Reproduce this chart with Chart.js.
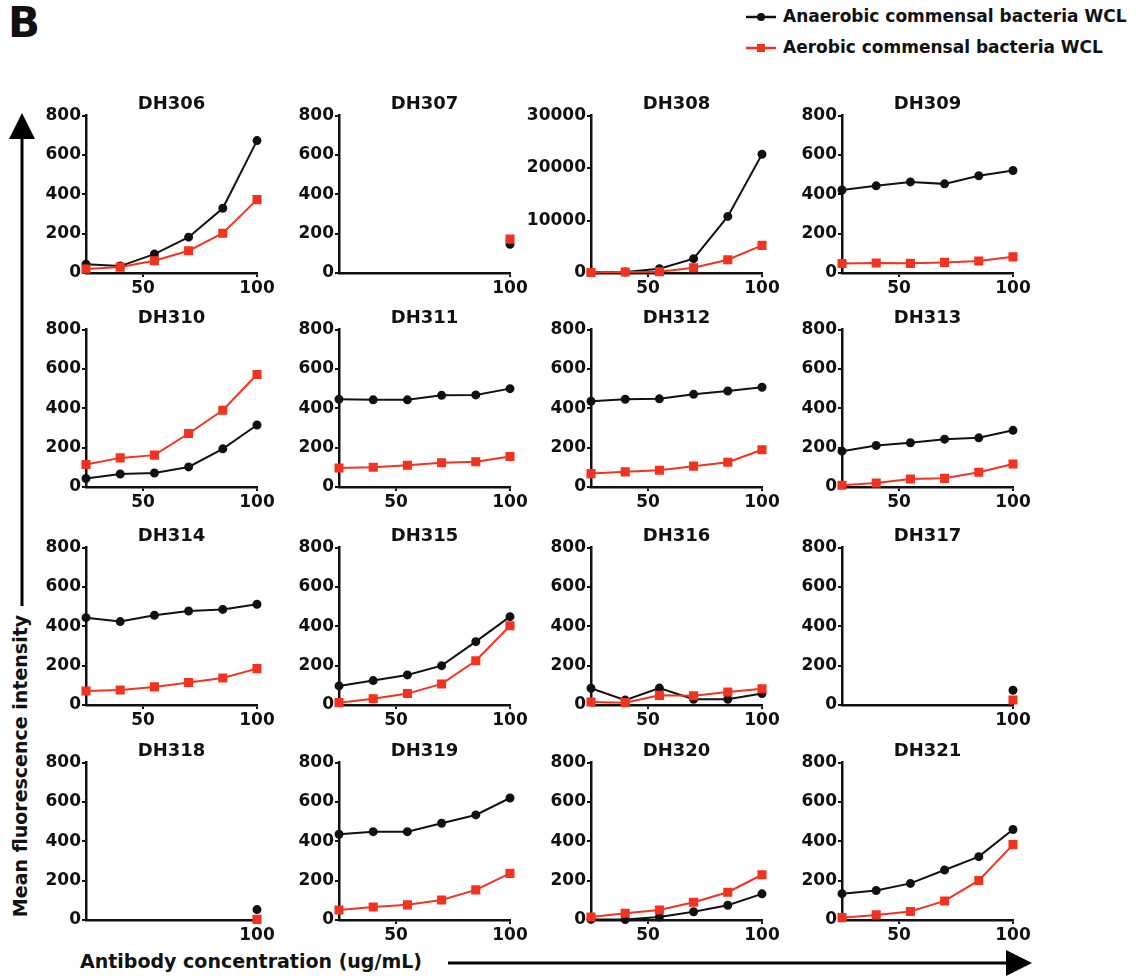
<!DOCTYPE html>
<html>
<head>
<meta charset="utf-8">
<script src="https://cdn.jsdelivr.net/npm/chart.js@4.4.1/dist/chart.umd.min.js"></script>
<style>
  body { margin: 0; background: #fff; }
  #page { position: relative; width: 1146px; height: 976px; overflow: hidden; font-family: 'DejaVu Sans', sans-serif; color: #111; }
  #page canvas { position: absolute; }
  .txt { position: absolute; font-weight: bold; white-space: nowrap; line-height: 1; }
  #overlay { position: absolute; left: 0; top: 0; }
</style>
</head>
<body>
<div id="page">
  <div class="txt" style="left:8px; top:2px; font-size:42px;">B</div>
  <div class="txt" style="left:783px; top:8px; font-size:17px;">Anaerobic commensal bacteria WCL</div>
  <div class="txt" style="left:783px; top:39px; font-size:17px;">Aerobic commensal bacteria WCL</div>
  <div class="txt" style="left:80px; top:952px; font-size:19px;">Antibody concentration (ug/mL)</div>
  <div class="txt" style="left:20px; top:766px; font-size:19px; transform: translate(-50%, -50%) rotate(-90deg);">Mean fluorescence intensity</div>
  <svg id="overlay" width="1146" height="976">
    <!-- legend markers -->
    <line x1="746" y1="17" x2="776" y2="17" stroke="#111" stroke-width="2.5"/>
    <circle cx="761" cy="17" r="4" fill="#111"/>
    <line x1="746" y1="48" x2="776" y2="48" stroke="#f2331f" stroke-width="2.5"/>
    <rect x="757" y="44" width="8" height="8" fill="#f2331f"/>
    <!-- axis arrows -->
    <line x1="22" y1="606" x2="22" y2="132" stroke="#000" stroke-width="3"/>
    <polygon points="22,113 9,139 35,139" fill="#000"/>
    <line x1="448" y1="963" x2="1010" y2="963" stroke="#000" stroke-width="3"/>
    <polygon points="1032,963 1006,950 1006,976" fill="#000"/>
  </svg>
</div>
<script>
// antibody concentration (ug/mL)
const DOSES = [25, 40, 55, 70, 85, 100];

const PANEL_NAMES = ['DH306', 'DH307', 'DH308', 'DH309', 'DH310', 'DH311', 'DH312', 'DH313',
                     'DH314', 'DH315', 'DH316', 'DH317', 'DH318', 'DH319', 'DH320', 'DH321'];

// mean fluorescence intensity, one pair of series per antibody
const dh306Anaerobic = [45, 35, 96, 182, 329, 673];
const dh306Aerobic   = [20, 30, 62, 113, 202, 373];
const dh307Anaerobic = [null, null, null, null, null, 146];
const dh307Aerobic   = [null, null, null, null, null, 172];
const dh308Anaerobic = [120, 190, 825, 2730, 10780, 22640];
const dh308Aerobic   = [80, 190, 250, 1015, 2540, 5260];
const dh309Anaerobic = [422, 443, 463, 453, 494, 521];
const dh309Aerobic   = [48, 51, 49, 54, 61, 82];
const dh310Anaerobic = [43, 66, 71, 102, 194, 315];
const dh310Aerobic   = [114, 148, 162, 272, 390, 572];
const dh311Anaerobic = [446, 443, 443, 466, 468, 500];
const dh311Aerobic   = [97, 100, 111, 123, 128, 155];
const dh312Anaerobic = [436, 446, 448, 471, 488, 507];
const dh312Aerobic   = [68, 77, 85, 106, 126, 189];
const dh313Anaerobic = [182, 211, 225, 243, 250, 288];
const dh313Aerobic   = [9, 20, 41, 44, 75, 117];
const dh314Anaerobic = [444, 424, 456, 478, 486, 512];
const dh314Aerobic   = [71, 76, 92, 114, 137, 185];
const dh315Anaerobic = [97, 124, 153, 200, 322, 449];
const dh315Aerobic   = [12, 32, 58, 107, 225, 403];
const dh316Anaerobic = [85, 25, 86, 29, 29, 58];
const dh316Aerobic   = [15, 12, 49, 47, 66, 83];
const dh317Anaerobic = [null, null, null, null, null, 75];
const dh317Aerobic   = [null, null, null, null, null, 25];
const dh318Anaerobic = [null, null, null, null, null, 53];
const dh318Aerobic   = [null, null, null, null, null, 3];
const dh319Anaerobic = [436, 449, 449, 492, 534, 620];
const dh319Aerobic   = [51, 66, 77, 102, 153, 237];
const dh320Anaerobic = [3, 2, 15, 42, 75, 133];
const dh320Aerobic   = [15, 34, 51, 90, 141, 230];
const dh321Anaerobic = [134, 150, 186, 254, 322, 460];
const dh321Aerobic   = [12, 26, 43, 97, 201, 383];

const ANAEROBIC = [dh306Anaerobic, dh307Anaerobic, dh308Anaerobic, dh309Anaerobic,
                   dh310Anaerobic, dh311Anaerobic, dh312Anaerobic, dh313Anaerobic,
                   dh314Anaerobic, dh315Anaerobic, dh316Anaerobic, dh317Anaerobic,
                   dh318Anaerobic, dh319Anaerobic, dh320Anaerobic, dh321Anaerobic];
const AEROBIC = [dh306Aerobic, dh307Aerobic, dh308Aerobic, dh309Aerobic,
                 dh310Aerobic, dh311Aerobic, dh312Aerobic, dh313Aerobic,
                 dh314Aerobic, dh315Aerobic, dh316Aerobic, dh317Aerobic,
                 dh318Aerobic, dh319Aerobic, dh320Aerobic, dh321Aerobic];

// y ranges: DH308 has its own scale
const Y_MAX  = [800, 800, 30000, 800, 800, 800, 800, 800, 800, 800, 800, 800, 800, 800, 800, 800];
const Y_STEP = [200, 200, 10000, 200, 200, 200, 200, 200, 200, 200, 200, 200, 200, 200, 200, 200];

// x tick labels
const X_TICKS_FULL = [50, 100];
const X_TICKS_SINGLE = [100];
const SINGLE_POINT_PANELS = ['DH307', 'DH317', 'DH318'];

const BLACK = '#111111';
const RED = '#f2331f';
const FONT = 'DejaVu Sans';

// panel grid geometry (y-axis x position, top of plot area)
const COL_AXIS_X = [86, 339, 591, 842];
const ROW_TOP = [116, 330, 548, 763];
const Y_AXIS_W = 66;
const PLOT_W = 171;
const PAD_RIGHT = 20;
const TITLE_H = 33.6;
const X_AXIS_H = 26;
const PLOT_H = 157;

const page = document.getElementById('page');

function toPoints(values) {
    return DOSES.map((d, i) => ({ x: d, y: values[i] }));
}

PANEL_NAMES.forEach((name, idx) => {
    const col = idx % 4;
    const row = Math.floor(idx / 4);

    const canvas = document.createElement('canvas');
    const w = Y_AXIS_W + PLOT_W + PAD_RIGHT;
    const h = Math.round(TITLE_H + PLOT_H + X_AXIS_H);
    canvas.width = w;
    canvas.height = h;
    canvas.style.left = (COL_AXIS_X[col] - Y_AXIS_W) + 'px';
    canvas.style.top = (ROW_TOP[row] - TITLE_H) + 'px';
    canvas.style.width = w + 'px';
    canvas.style.height = h + 'px';
    page.appendChild(canvas);

    const xTicks = SINGLE_POINT_PANELS.includes(name) ? X_TICKS_SINGLE : X_TICKS_FULL;

    const axisStyle = {
        grid: { display: true, drawOnChartArea: false, drawTicks: true, tickLength: 4, color: BLACK, lineWidth: 2 },
        border: { display: true, color: BLACK, width: 2.5 }
    };

    new Chart(canvas.getContext('2d'), {
        type: 'line',
        data: {
            datasets: [
                {
                    label: 'Aerobic commensal bacteria WCL',
                    data: toPoints(AEROBIC[idx]),
                    borderColor: RED,
                    backgroundColor: RED,
                    borderWidth: 2,
                    pointStyle: 'rect',
                    pointRadius: 5,
                    clip: false,
                    order: 0
                },
                {
                    label: 'Anaerobic commensal bacteria WCL',
                    data: toPoints(ANAEROBIC[idx]),
                    borderColor: BLACK,
                    backgroundColor: BLACK,
                    borderWidth: 2,
                    pointStyle: 'circle',
                    pointRadius: 3.5,
                    clip: false,
                    order: 1
                }
            ]
        },
        options: {
            responsive: false,
            animation: false,
            devicePixelRatio: 1,
            layout: { padding: { left: 0, right: PAD_RIGHT, top: 0, bottom: 0 } },
            plugins: {
                legend: { display: false },
                tooltip: { enabled: false },
                title: {
                    display: true,
                    text: name,
                    fullSize: false,
                    color: BLACK,
                    font: { family: FONT, size: 18, weight: 'bold', lineHeight: 1.2 },
                    padding: { top: 12, bottom: 0 }
                }
            },
            scales: {
                x: {
                    type: 'linear',
                    min: 25,
                    max: 100,
                    afterBuildTicks: scale => { scale.ticks = xTicks.map(v => ({ value: v })); },
                    afterFit: scale => { scale.height = X_AXIS_H; },
                    ticks: { color: BLACK, font: { family: FONT, size: 17, weight: 'bold' }, padding: 1, maxRotation: 0, autoSkip: false },
                    ...axisStyle
                },
                y: {
                    min: 0,
                    max: Y_MAX[idx],
                    afterFit: scale => { scale.width = Y_AXIS_W; },
                    ticks: {
                        stepSize: Y_STEP[idx],
                        color: BLACK,
                        font: { family: FONT, size: 17, weight: 'bold' },
                        padding: 1,
                        callback: v => String(v)
                    },
                    ...axisStyle
                }
            }
        }
    });
});
</script>
</body>
</html>
